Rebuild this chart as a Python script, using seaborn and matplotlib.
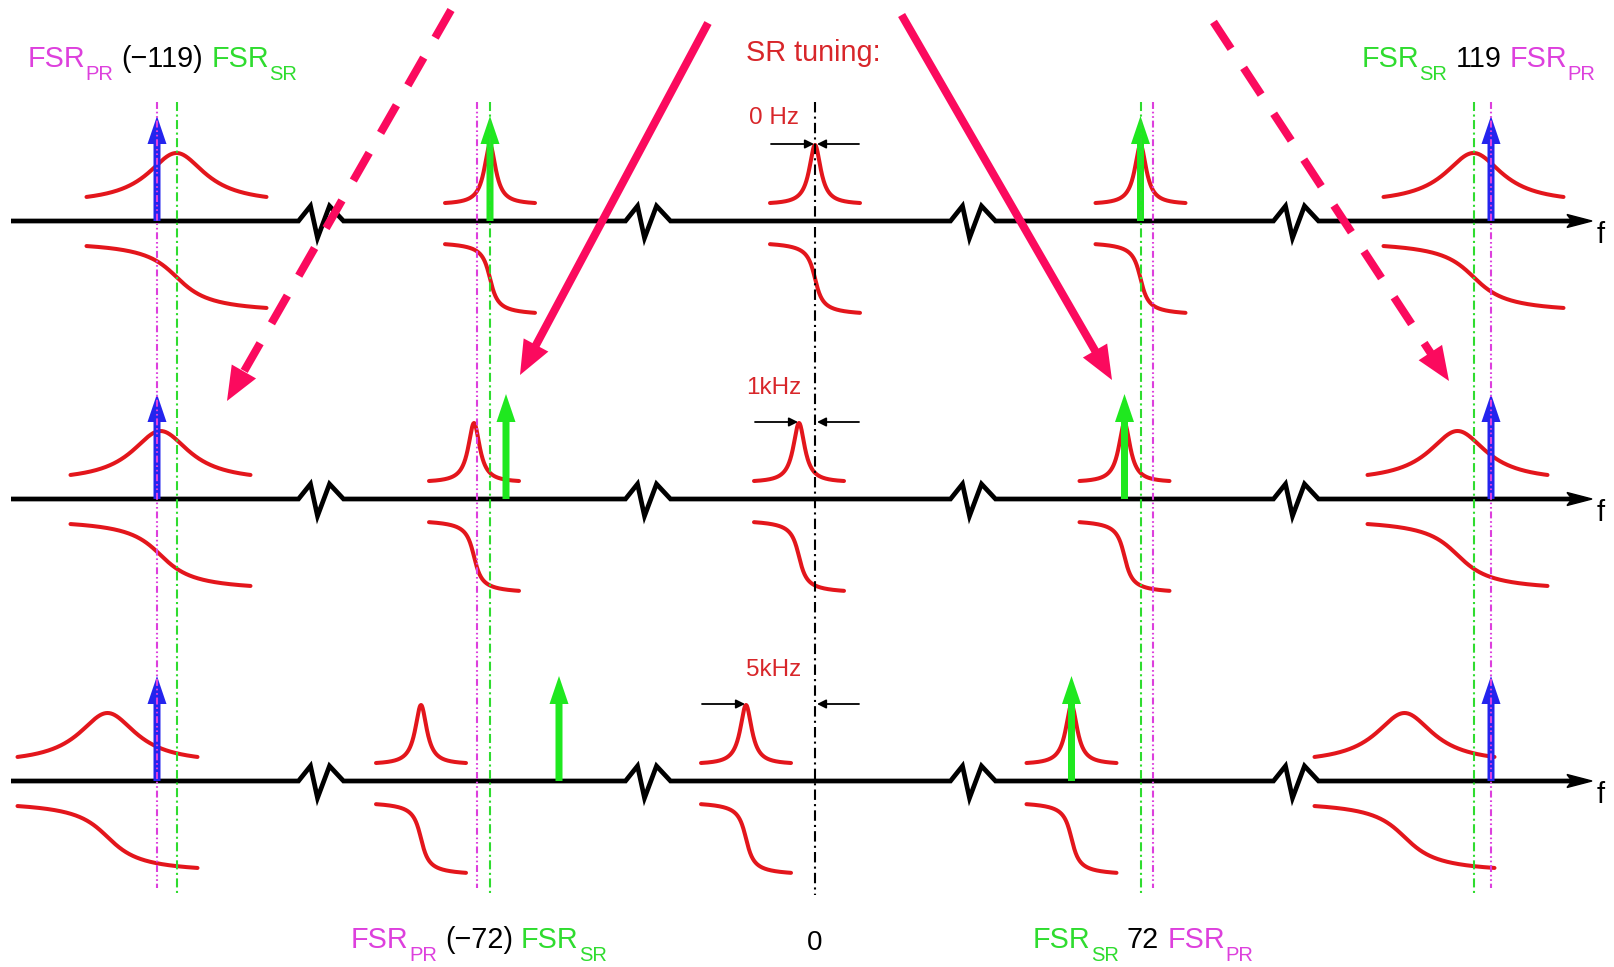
import numpy as np
import pandas as pd
import matplotlib
matplotlib.use("Agg")
import matplotlib.pyplot as plt
from matplotlib.patches import Polygon
import seaborn as sns

# ---------------- values ----------------
fsr_orders = [-119, -72, 0, 72, 119]                 # resonance orders shown
field_at_order = ["carrier", "sideband", "none", "sideband", "carrier"]
resonance_kind = ["broad", "narrow", "narrow", "narrow", "broad"]
pr_minus_sr = [-19.5, -13.0, 0.0, 12.5, 17.5]        # PR resonance relative to SR resonance
tuning_labels = ["0 Hz", "1kHz", "5kHz"]
tuning_khz = [0, 1, 5]
heading = "SR tuning:"
axis_name = "f"

# ---------------- layout (figure pixels) ----------------
FIG_W, FIG_H = 1614, 967
slot_x = [176.5, 490.0, 815.0, 1140.5, 1473.5]       # SR resonance column of each order
row_axis_y = [221, 499, 781]
row_shift = [0, 16, 69]                              # drawn detuning of each row
row_label_rise = [103, 111, 111]
break_x = [321, 648, 973, 1296]
line_top, line_bottom = 102, 895
axis_x0, axis_tip = 11, 1592
pink_arrows = [((451, 10), (227, 401), True),
               ((708, 23), (520, 375), False),
               ((901.6, 15), (1112, 380), False),
               ((1213.5, 22), (1449, 381), True)]

RED = "#e3161c"
RED_TXT = "#d8262a"
MAG = "#dd40dd"
GRN = "#2fdc2f"
ARROW_GRN = "#1fe81f"
BLUE = "#2424ee"
PINK = "#fb0a5e"

shape = {
    "broad":  dict(half=90, w=35.0, A=50.6, c=17.4, h=37.4, mid=56.0, wp=25.0),
    "narrow": dict(half=45, w=7.0, A=59.4, c=16.6, h=37.5, mid=57.5, wp=6.0),
}

sns.set_theme(style="white")
plt.rcParams["font.family"] = ["Liberation Sans", "DejaVu Sans"]
plt.rcParams["lines.scale_dashes"] = False

fig = plt.figure(figsize=(FIG_W / 100, FIG_H / 100), dpi=100)
fig.patch.set_facecolor("white")
ax = fig.add_axes([0, 0, 1, 1])
ax.set_facecolor("white")

# ---------------- resonance curves (amplitude and phase) ----------------
rows = []
for r, y0 in enumerate(row_axis_y):
    for g, order in enumerate(fsr_orders):
        p = shape[resonance_kind[g]]
        peak = slot_x[g] - row_shift[r]
        d = np.linspace(-p["half"], p["half"], 400)
        amp = y0 - (p["c"] + p["A"] / (1 + (d / p["w"]) ** 2))
        phase = y0 + p["mid"] + p["h"] * (2 / np.pi) * np.arctan(d / p["wp"])
        for kind, yy in (("amp", amp), ("phase", phase)):
            rows.append(pd.DataFrame({"x": peak + d, "y": yy,
                                      "curve": f"{r}-{order}-{kind}"}))
curves = pd.concat(rows, ignore_index=True)
sns.lineplot(data=curves, x="x", y="y", units="curve", estimator=None, sort=False,
             color=RED, lw=2.9, ax=ax, legend=False, zorder=2)

# ---------------- frequency axes with breaks ----------------
zig_dx = [-22.5, -10.5, -3.5, 8.5, 22.5]
zig_dy = [0, -15, 17, -15, 0]
for y0 in row_axis_y:
    xs, ys = [axis_x0], [y0]
    for bx in break_x:
        xs += [bx + dx for dx in zig_dx]
        ys += [y0 + dy for dy in zig_dy]
    xs.append(axis_tip - 20)
    ys.append(y0)
    ax.plot(xs, ys, color="black", lw=3.4, solid_joinstyle="miter",
            solid_capstyle="butt", zorder=2.5)
    ax.add_patch(Polygon([(axis_tip, y0), (axis_tip - 25, y0 - 6.5),
                          (axis_tip - 20, y0), (axis_tip - 25, y0 + 6.5)],
                         closed=True, color="black", zorder=2.5))
    ax.text(axis_tip + 9, y0 + 14, axis_name, fontsize=21, color="black",
            ha="center", va="center")

# ---------------- carrier and sideband fields ----------------
for r, y0 in enumerate(row_axis_y):
    for g, order in enumerate(fsr_orders):
        if field_at_order[g] == "carrier":
            x, col = slot_x[g] + pr_minus_sr[g], BLUE
        elif field_at_order[g] == "sideband":
            x, col = slot_x[g] - np.sign(order) * row_shift[r], ARROW_GRN
        else:
            continue
        ax.arrow(x, y0, 0, -105, width=7, head_width=19, head_length=28,
                 length_includes_head=True, color=col, lw=0, zorder=3)

# ---------------- resonance markers ----------------
for g, order in enumerate(fsr_orders):
    if order == 0:
        ax.plot([slot_x[g]] * 2, [line_top, line_bottom], color="black", lw=1.5,
                ls=(0, (7.5, 3, 1.5, 3)), zorder=4)
        continue
    ax.plot([slot_x[g]] * 2, [line_top, line_bottom], color=GRN, lw=1.5,
            ls=(0, (6.5, 2.5, 1.5, 2.5)), zorder=4)
    ax.plot([slot_x[g] + pr_minus_sr[g]] * 2, [line_top, line_bottom - 7], color=MAG,
            lw=1.5, ls=(0, (5, 2, 1.2, 2, 1.2, 2)), zorder=4)

# ---------------- tuning annotation ----------------
center = slot_x[fsr_orders.index(0)]
ax.text(center - 2, 53, heading, fontsize=20.8, color=RED_TXT, ha="center", va="center")
for r, y0 in enumerate(row_axis_y):
    peak = center - row_shift[r]
    ya = y0 - 77
    ax.text(center - 41, y0 - row_label_rise[r], tuning_labels[r], fontsize=17.5,
            color=RED_TXT, ha="center", va="center")
    ap = dict(arrowstyle="-|>", color="black", lw=1.3, mutation_scale=13,
              shrinkA=0, shrinkB=0)
    ax.annotate("", xy=(peak - 1, ya), xytext=(peak - 44, ya), arrowprops=ap, zorder=5)
    ax.annotate("", xy=(center + 2, ya), xytext=(center + 44, ya), arrowprops=ap, zorder=5)

# ---------------- order labels ----------------
renderer = fig.canvas.get_renderer()
MAIN, SUB = 20.7, 14.5


def label_run(x, y_base, pieces):
    for s, col, kind, gap in pieces:
        x += gap
        fs = SUB if kind == "sub" else MAIN
        yb = y_base + (13 if kind == "sub" else 0)
        t = ax.text(x, yb, s, fontsize=fs, color=col, ha="left", va="baseline")
        bb = t.get_window_extent(renderer)
        x += bb.width


def order_pieces(order):
    if order < 0:
        num = f"(\u2212{abs(order)})"
        return [("FSR", MAG, "main", 0), ("PR", MAG, "sub", 0.5), (num, "black", "main", 8),
                ("FSR", GRN, "main", 8), ("SR", GRN, "sub", 0.5)]
    num = f"{order}"
    return [("FSR", GRN, "main", 0), ("SR", GRN, "sub", 0.5), (num, "black", "main", 8),
            ("FSR", MAG, "main", 8), ("PR", MAG, "sub", 0.5)]


label_pos = {-119: (27.5, 67), 119: (1361.5, 67), -72: (351, 948), 72: (1033, 948)}
for order in fsr_orders:
    if order == 0:
        ax.text(center, 950, "0", fontsize=20, color="black", ha="center", va="baseline")
    else:
        lx, ly = label_pos[order]
        label_run(lx, ly, order_pieces(order))

# ---------------- pointers from the heading ----------------
for (x0, y0), (x1, y1), dashed in pink_arrows:
    v = np.array([x1 - x0, y1 - y0], float)
    u = v / np.hypot(*v)
    n = np.array([-u[1], u[0]])
    hl, hw = 34, 28
    base = np.array([x1, y1]) - u * hl
    end = base + u * 3
    ax.plot([x0, end[0]], [y0, end[1]], color=PINK, lw=5.8,
            ls=(0, (23, 16.5)) if dashed else "-",
            dash_capstyle="butt", solid_capstyle="butt", zorder=6)
    ax.add_patch(Polygon([(x1, y1), tuple(base + n * hw / 2), tuple(base - n * hw / 2)],
                         closed=True, color=PINK, lw=0, zorder=6))

ax.set_xlim(0, FIG_W)
ax.set_ylim(FIG_H, 0)
ax.axis("off")
fig.savefig("out.png", dpi=100, facecolor="white")
